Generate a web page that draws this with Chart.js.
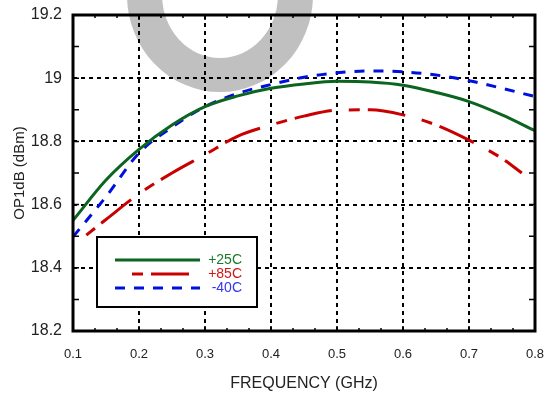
<!DOCTYPE html>
<html>
<head>
<meta charset="utf-8">
<title>OP1dB vs Frequency</title>
<script src="https://cdn.jsdelivr.net/npm/chart.js@4.4.1/dist/chart.umd.min.js"></script>
<style>
  html, body { margin: 0; padding: 0; background: #ffffff; }
  #wrap { width: 547px; height: 393px; position: relative; }
</style>
</head>
<body>
<div id="wrap"><canvas id="op1dbChart"></canvas></div>
<script>
// data
const freqs = [0.1, 0.15, 0.2, 0.25, 0.3, 0.35, 0.4, 0.45, 0.5, 0.55, 0.6, 0.65, 0.7, 0.75, 0.8];
const op1db25 = [18.55, 18.678, 18.775, 18.852, 18.91, 18.944, 18.968, 18.982, 18.99, 18.988, 18.978, 18.955, 18.926, 18.884, 18.834];
const op1db40 = [18.498, 18.625, 18.763, 18.845, 18.91, 18.952, 18.98, 19.003, 19.017, 19.023, 19.02, 19.01, 18.992, 18.968, 18.942];
const freqs85 = [0.1, 0.15, 0.2, 0.25, 0.3, 0.35, 0.4, 0.45, 0.5, 0.55, 0.6, 0.65, 0.7, 0.75, 0.78];
const op1db85 = [18.47, 18.553, 18.634, 18.70, 18.758, 18.817, 18.852, 18.88, 18.899, 18.90, 18.884, 18.852, 18.804, 18.746, 18.70];

const seriesLabels = ['+25C', '+85C', '-40C'];
const xTicks = [0.1, 0.2, 0.3, 0.4, 0.5, 0.6, 0.7, 0.8];
const yTicks = [18.2, 18.4, 18.6, 18.8, 19, 19.2];

const GREEN = '#0b6420';
const RED = '#c80000';
const BLUE = '#0010dc';
const TEXT = '#222222';

const toPoints = (xs, ys) => xs.map((x, i) => ({ x: x, y: ys[i] }));
const fmt = v => String(Number(v.toFixed(1)));

// grey watermark ring behind everything
const watermark = {
    id: 'watermark',
    beforeDraw(chart) {
        const ctx = chart.ctx;
        ctx.save();
        ctx.fillStyle = '#c0c0c0';
        ctx.beginPath();
        ctx.ellipse(220, -5, 93, 97, 0, 0, Math.PI * 2);
        ctx.ellipse(220, -5, 58, 63, 0, 0, Math.PI * 2);
        ctx.fill('evenodd');
        ctx.restore();
    }
};

// frame, small inner ticks and the boxed legend
const frameAndLegend = {
    id: 'frameAndLegend',
    afterDraw(chart) {
        const ctx = chart.ctx;
        const a = chart.chartArea;
        const xs = chart.scales.x;
        const ys = chart.scales.y;
        ctx.save();
        ctx.strokeStyle = '#000';
        ctx.lineWidth = 1.5;
        ctx.setLineDash([]);
        ctx.beginPath();
        for (let i = 0; i <= 21; i++) {
            const px = xs.getPixelForValue(0.1 + i * 0.1 / 3);
            const len = (i % 3 === 0) ? 5 : 3;
            ctx.moveTo(px, a.bottom); ctx.lineTo(px, a.bottom - len);
            ctx.moveTo(px, a.top); ctx.lineTo(px, a.top + len);
        }
        for (let i = 0; i <= 10; i++) {
            const py = ys.getPixelForValue(18.2 + i * 0.1);
            ctx.moveTo(a.left, py); ctx.lineTo(a.left + 6, py);
            ctx.moveTo(a.right, py); ctx.lineTo(a.right - 6, py);
        }
        ctx.stroke();

        ctx.lineWidth = 3;
        ctx.strokeRect(a.left, a.top, a.right - a.left, a.bottom - a.top);

        // legend box
        ctx.fillStyle = '#fff';
        ctx.fillRect(97, 237, 160, 70);
        ctx.lineWidth = 2;
        ctx.strokeRect(97, 237, 160, 70);

        const rows = [
            { ds: chart.data.datasets[0], y: 260, text: '#1a7a2a' },
            { ds: chart.data.datasets[1], y: 274, text: '#d41414' },
            { ds: chart.data.datasets[2], y: 288, text: '#3535f0' }
        ];
        ctx.font = '14px "Liberation Sans", Arial, sans-serif';
        ctx.textAlign = 'right';
        ctx.textBaseline = 'middle';
        rows.forEach(r => {
            ctx.strokeStyle = r.ds.borderColor;
            ctx.lineWidth = r.ds.borderWidth;
            ctx.setLineDash(r.ds.borderDash || []);
            ctx.lineDashOffset = r.ds.borderDashOffset || 0;
            ctx.beginPath();
            ctx.moveTo(115, r.y);
            ctx.lineTo(200, r.y);
            ctx.stroke();
            ctx.fillStyle = r.text;
            ctx.fillText(r.ds.label, 242, r.y);
        });
        ctx.restore();
    }
};

const ctx = document.getElementById('op1dbChart').getContext('2d');

new Chart(ctx, {
    type: 'line',
    data: {
        datasets: [{
            label: seriesLabels[0],
            data: toPoints(freqs, op1db25),
            borderColor: GREEN,
            borderWidth: 3,
            cubicInterpolationMode: 'monotone',
            pointRadius: 0
        }, {
            label: seriesLabels[1],
            data: toPoints(freqs85, op1db85),
            borderColor: RED,
            borderWidth: 3,
            borderDash: [11, 8, 38, 17],
            borderDashOffset: 57,
            cubicInterpolationMode: 'monotone',
            pointRadius: 0
        }, {
            label: seriesLabels[2],
            data: toPoints(freqs, op1db40),
            borderColor: BLUE,
            borderWidth: 3,
            borderDash: [10, 9],
            cubicInterpolationMode: 'monotone',
            pointRadius: 0
        }]
    },
    options: {
        responsive: true,
        maintainAspectRatio: false,
        animation: false,
        layout: { padding: { top: 15, right: 12, left: 0, bottom: 0 } },
        plugins: {
            legend: { display: false },
            tooltip: { enabled: false }
        },
        scales: {
            x: {
                type: 'linear',
                min: 0.1,
                max: 0.8,
                afterBuildTicks: s => { s.ticks = xTicks.map(v => ({ value: v })); },
                afterFit: s => {
                    s.height = 62;
                    s.paddingLeft = 0;
                    s.paddingRight = 0;
                },
                ticks: {
                    color: TEXT,
                    padding: 16,
                    font: { family: '"Liberation Sans", Arial, sans-serif', size: 13 },
                    callback: v => fmt(v)
                },
                grid: { color: '#000', lineWidth: 2, drawTicks: false },
                border: { display: false, dash: [4, 4] },
                title: {
                    display: true,
                    text: 'FREQUENCY (GHz)',
                    color: TEXT,
                    padding: { top: 0, bottom: 0 },
                    font: { family: '"Liberation Sans", Arial, sans-serif', size: 16 }
                }
            },
            y: {
                min: 18.2,
                max: 19.2,
                afterBuildTicks: s => { s.ticks = yTicks.map(v => ({ value: v })); },
                afterFit: s => {
                    s.width = 73;
                    s.paddingTop = 0;
                    s.paddingBottom = 0;
                },
                ticks: {
                    color: TEXT,
                    padding: 11,
                    font: { family: '"Liberation Sans", Arial, sans-serif', size: 16 },
                    callback: v => fmt(v)
                },
                grid: { color: '#000', lineWidth: 2, drawTicks: false },
                border: { display: false, dash: [4, 4] },
                title: {
                    display: true,
                    text: 'OP1dB (dBm)',
                    color: TEXT,
                    padding: { top: 11, bottom: 0 },
                    font: { family: '"Liberation Sans", Arial, sans-serif', size: 15 }
                }
            }
        }
    },
    plugins: [watermark, frameAndLegend]
});
</script>
</body>
</html>
